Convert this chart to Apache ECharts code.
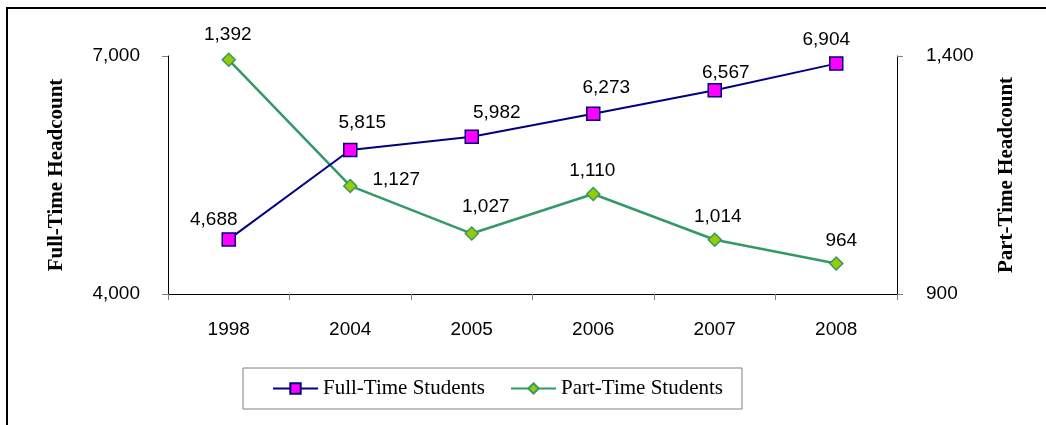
<!DOCTYPE html>
<html>
<head>
<meta charset="utf-8">
<script src="https://cdn.jsdelivr.net/npm/echarts@6/dist/echarts.min.js"></script>
<style>
html,body{margin:0;padding:0;background:#fff;}
#wrap{position:relative;width:1046px;height:425px;overflow:hidden;}
#frame{position:absolute;left:6px;top:7px;width:2000px;height:2000px;border-left:2px solid #000;border-top:2px solid #000;box-sizing:border-box;}
#main{position:absolute;left:0;top:0;width:1046px;height:425px;}
</style>
</head>
<body>
<div id="wrap"><div id="frame"></div><div id="main"></div></div>
<script>
var categories = ['1998', '2004', '2005', '2006', '2007', '2008'];
var fullTime = [4688, 5815, 5982, 6273, 6567, 6904];
var partTime = [1392, 1127, 1027, 1110, 1014, 964];
var leftTicks = [4000, 7000];
var rightTicks = [900, 1400];

// label nudges (pixels), matching the hand-placed labels of the original
var ftLabelNudge = [[-15, 3], [12, -4], [25, -1], [13, -3], [11, 5], [-10, -1]];
var ptLabelNudge = [[-1, -1], [0, -6], [14, -3], [-1, 0], [3, 1], [5, 1]];

function fmt(v) { return Number(v).toLocaleString('en-US'); }

var chart = echarts.init(document.getElementById('main'), null, {renderer: 'canvas'});
var labelFont = {fontFamily: 'Liberation Sans, Arial', fontSize: 19, color: '#000'};
var nameFont = {fontFamily: 'Liberation Serif, Times New Roman', fontSize: 21, fontWeight: 'bold', color: '#000'};

var ftData = fullTime.map(function (v, i) {
  return {value: v, label: {offset: ftLabelNudge[i]}};
});
var ptData = partTime.map(function (v, i) {
  var d = {value: v, label: {offset: ptLabelNudge[i]}};
  if (i === 1) {
    d.label.position = 'right';
    d.label.distance = 15;
  }
  return d;
});

chart.setOption({
  animation: false,
  backgroundColor: 'transparent',
  grid: {left: 168, right: 149, top: 56, bottom: 131},
  legend: {
    left: 243, top: 368,
    padding: [10, 19, 10, 29],
    borderColor: '#808080', borderWidth: 1,
    itemWidth: 45, itemHeight: 13, itemGap: 25,
    textStyle: {fontFamily: 'Liberation Serif, Times New Roman', fontSize: 21, color: '#000'},
    data: ['Full-Time Students', 'Part-Time Students']
  },
  xAxis: {
    type: 'category',
    data: categories,
    boundaryGap: true,
    axisLine: {lineStyle: {color: '#000', width: 1}},
    axisTick: {show: true, length: 6, lineStyle: {color: '#808080'}},
    axisLabel: Object.assign({margin: 26}, labelFont),
    splitLine: {show: false}
  },
  yAxis: [
    {
      type: 'value', min: 4000, max: 7000,
      position: 'left',
      name: 'Full-Time Headcount', nameLocation: 'middle', nameGap: 101,
      nameTextStyle: nameFont,
      axisLine: {show: true, lineStyle: {color: '#000', width: 1}},
      axisTick: {show: true, length: 6, lineStyle: {color: '#808080'}, customValues: leftTicks},
      axisLabel: Object.assign({margin: 28, formatter: fmt, customValues: leftTicks}, labelFont),
      splitLine: {show: false}
    },
    {
      type: 'value', min: 900, max: 1400,
      position: 'right',
      name: 'Part-Time Headcount', nameLocation: 'middle', nameGap: 99,
      nameRotate: 90,
      nameTextStyle: nameFont,
      axisLine: {show: true, lineStyle: {color: '#000', width: 1}},
      axisTick: {show: true, length: 6, lineStyle: {color: '#808080'}, customValues: rightTicks},
      axisLabel: Object.assign({margin: 29, formatter: fmt, customValues: rightTicks}, labelFont),
      splitLine: {show: false}
    }
  ],
  series: [
    {
      name: 'Full-Time Students',
      type: 'line',
      yAxisIndex: 0,
      data: ftData,
      symbol: 'rect', symbolSize: 13,
      lineStyle: {color: '#000080', width: 2},
      itemStyle: {color: '#FF00FF', borderColor: '#000080', borderWidth: 1.5},
      label: Object.assign({show: true, position: 'top', distance: 6, formatter: function (p) { return fmt(p.value); }}, labelFont),
      z: 3
    },
    {
      name: 'Part-Time Students',
      type: 'line',
      yAxisIndex: 1,
      data: ptData,
      symbol: 'diamond', symbolSize: 13,
      lineStyle: {color: '#339966', width: 2.5},
      itemStyle: {color: '#99CC00', borderColor: '#339966', borderWidth: 1.5},
      label: Object.assign({show: true, position: 'top', distance: 7, formatter: function (p) { return fmt(p.value); }}, labelFont),
      z: 2
    }
  ]
});
</script>
</body>
</html>
